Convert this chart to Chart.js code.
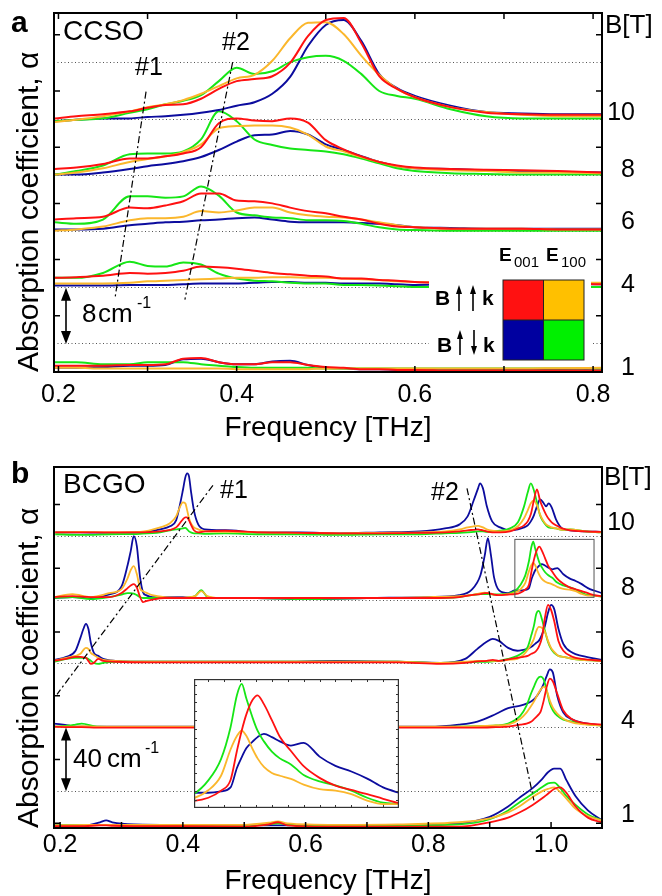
<!DOCTYPE html>
<html>
<head>
<meta charset="utf-8">
<script src="https://cdn.jsdelivr.net/npm/chart.js@4.4.1/dist/chart.umd.min.js"></script>
<style>
  html, body { margin: 0; padding: 0; background: #fff; }
  #wrap { position: relative; width: 662px; height: 896px; }
  canvas { position: absolute; left: 0; }
  #cA { top: 0; }
  #cB { top: 448px; }
  #cI { left: 194px; top: 679px; }
</style>
</head>
<body>
<div id="wrap">
  <canvas id="cA" width="662" height="448"></canvas>
  <canvas id="cB" width="662" height="448"></canvas>
  <canvas id="cI" width="205" height="129"></canvas>
</div>
<script>
// ---------- panel a : CCSO (values in cm^-1 above each field's baseline) ----------
const freqA = [0.196, 0.22, 0.25, 0.28, 0.30, 0.32, 0.34, 0.36, 0.38, 0.40, 0.42, 0.44, 0.46, 0.48, 0.50, 0.52, 0.54, 0.56, 0.58, 0.60, 0.64, 0.68, 0.72, 0.76, 0.81];

const a10red    = [0.1, 0.4, 0.7, 1.1, 1.6, 2.0, 2.1, 2.9, 4.3, 5.4, 5.7, 6.1, 8.0, 11.8, 14.1, 14.4, 10.8, 6.1, 4.3, 3.1, 1.7, 0.9, 0.7, 0.6, 0.6];
const a10yellow = [-0.4, -0.1, 0.4, 1.1, 1.7, 2.1, 2.7, 3.6, 4.7, 5.8, 6.3, 8.3, 11.5, 13.7, 13.8, 12.1, 9.0, 6.3, 4.3, 3.1, 1.7, 1.0, 0.6, 0.4, 0.4];
const a10green  = [-0.3, -0.1, 0.1, 0.9, 1.4, 2.1, 2.6, 3.4, 5.4, 7.3, 6.4, 6.8, 8.1, 8.8, 9.0, 8.3, 6.4, 4.0, 3.3, 2.9, 1.4, 0.4, 0.1, 0.1, 0.1];
const a10blue   = [-0.3, -0.1, 0.1, 0.1, 0.3, 0.4, 0.6, 0.9, 1.3, 1.9, 2.4, 3.6, 6.0, 10.4, 13.4, 14.1, 11.1, 6.4, 4.4, 3.3, 1.9, 1.0, 0.8, 0.7, 0.7];

const a8red    = [0.9, 1.1, 1.6, 2.4, 2.4, 2.7, 3.1, 4.0, 7.4, 8.1, 7.8, 7.7, 8.1, 7.5, 5.0, 3.7, 2.7, 1.9, 1.4, 1.1, 0.9, 0.8, 0.7, 0.6, 0.4];
const a8yellow = [0.1, 0.4, 1.0, 1.9, 2.3, 2.7, 3.3, 4.4, 6.7, 7.0, 7.1, 7.1, 6.8, 5.8, 4.1, 3.4, 2.6, 1.9, 1.3, 1.0, 0.7, 0.6, 0.4, 0.4, 0.3];
const a8green  = [0.1, 0.6, 1.4, 3.0, 3.1, 3.1, 3.4, 5.1, 9.1, 7.7, 5.1, 4.3, 3.8, 3.6, 3.4, 3.0, 2.4, 1.7, 1.0, 0.6, 0.3, 0.2, 0.1, 0.1, 0.1];
const a8blue   = [0.1, 0.1, 0.4, 0.9, 1.3, 1.6, 2.0, 2.6, 3.6, 4.8, 5.7, 5.8, 6.3, 5.8, 4.4, 3.6, 2.7, 1.9, 1.3, 1.0, 0.9, 0.7, 0.6, 0.5, 0.4];

const a6red    = [1.7, 1.9, 2.1, 3.4, 3.3, 3.7, 4.3, 5.4, 5.4, 4.4, 4.3, 4.0, 3.4, 2.9, 2.6, 2.1, 1.7, 1.1, 0.7, 0.6, 0.4, 0.4, 0.4, 0.3, 0.3];
const a6yellow = [0.1, 0.3, 0.7, 1.6, 1.9, 1.9, 2.1, 2.9, 2.7, 3.0, 3.4, 3.4, 2.7, 2.3, 2.1, 2.0, 1.7, 1.3, 0.9, 0.6, 0.4, 0.4, 0.4, 0.3, 0.3];
const a6green  = [1.3, 1.1, 1.7, 5.0, 5.0, 4.8, 5.0, 6.4, 5.1, 2.7, 2.3, 2.0, 1.9, 1.6, 1.6, 1.5, 1.1, 0.6, 0.3, 0.2, 0.1, 0.1, 0.1, 0.1, 0.1];
const a6blue   = [0.3, 0.3, 0.4, 0.9, 1.1, 1.3, 1.4, 1.6, 1.7, 1.9, 2.0, 1.7, 1.4, 1.3, 1.3, 1.3, 1.2, 1.1, 0.9, 0.6, 0.5, 0.4, 0.4, 0.4, 0.4];

const a4red    = [1.4, 1.5, 1.7, 2.1, 2.0, 2.1, 2.4, 3.0, 2.9, 2.7, 2.4, 2.1, 1.9, 1.7, 1.6, 1.3, 1.3, 1.1, 1.0, 0.8, 0.7, 0.6, 0.6, 0.6, 0.5];
const a4yellow = [0.6, 0.6, 0.6, 0.7, 0.9, 1.0, 1.1, 1.2, 1.3, 1.4, 1.4, 1.5, 1.5, 1.4, 1.4, 1.3, 1.2, 1.1, 0.9, 0.8, 0.7, 0.7, 0.7, 0.7, 0.7];
const a4green  = [1.4, 1.4, 2.1, 3.7, 3.1, 3.0, 3.6, 3.3, 2.0, 1.3, 1.0, 0.9, 0.7, 0.6, 0.6, 0.4, 0.4, 0.3, 0.2, 0.1, 0.1, 0.1, 0.1, 0.1, 0.1];
const a4blue   = [0.3, 0.3, 0.3, 0.4, 0.4, 0.4, 0.5, 0.6, 0.6, 0.6, 0.7, 0.8, 0.8, 0.7, 0.7, 0.6, 0.6, 0.6, 0.5, 0.4, 0.5, 0.5, 0.5, 0.5, 0.5];

const a1red    = [0.9, 0.9, 0.9, 1.0, 1.0, 1.1, 1.9, 2.0, 1.4, 1.1, 1.1, 1.4, 1.4, 1.0, 0.7, 0.6, 0.4, 0.4, 0.3, 0.3, 0.2, 0.2, 0.2, 0.2, 0.2];
const a1yellow = [0.6, 0.6, 0.5, 0.5, 0.5, 0.5, 0.5, 0.5, 0.5, 0.4, 0.4, 0.4, 0.4, 0.4, 0.5, 0.5, 0.5, 0.5, 0.5, 0.5, 0.5, 0.5, 0.5, 0.55, 0.6];
const a1green  = [1.4, 1.4, 1.1, 1.1, 1.4, 1.4, 1.4, 1.1, 0.9, 0.7, 0.6, 0.6, 0.6, 0.6, 0.5, 0.5, 0.5, 0.5, 0.5, 0.5, 0.5, 0.5, 0.5, 0.5, 0.5];
const a1blue   = [0.6, 0.6, 0.7, 0.9, 0.9, 1.0, 1.8, 1.9, 1.4, 1.1, 1.1, 1.5, 1.6, 1.0, 0.6, 0.5, 0.4, 0.4, 0.3, 0.3, 0.3, 0.3, 0.3, 0.3, 0.2];

const offsetsA = [36, 28, 20, 12, 0];          // 10, 8, 6, 4, 1 T
const fieldPosA = [36.9, 28.75, 21.35, 12.3, 0.5];
const fieldLabels = ['10', '8', '6', '4', '1'];
const gridA = [4, 12, 20, 28, 36, 44];
const tickXA = [0.2, 0.3, 0.4, 0.5, 0.6, 0.7, 0.8];
const tickYA = [8, 16, 24, 32, 40, 48];
const guideA1 = [[0.2983, 39.9], [0.2637, 10.7]];
const guideA2 = [[0.3955, 44.1], [0.3419, 10.3]];

// ---------- panel b : BCGO ----------
const freqB10 = [0.192, 0.233, 0.281, 0.330, 0.363, 0.379, 0.389, 0.395, 0.400, 0.404, 0.407, 0.410, 0.413, 0.418, 0.425, 0.436, 0.469, 0.526, 0.591, 0.656, 0.721, 0.786, 0.827, 0.851, 0.864, 0.874, 0.881, 0.884, 0.889, 0.895, 0.904, 0.917, 0.933, 0.946, 0.956, 0.962, 0.967, 0.972, 0.977, 0.982, 0.987, 0.992, 0.996, 1.001, 1.008, 1.018, 1.031, 1.055, 1.081];
const b10red    = [2.5, 2.5, 2.5, 2.5, 3.1, 4.1, 5.6, 8.2, 10.7, 11.9, 11.9, 10.0, 7.5, 3.8, 2.5, 3.1, 3.5, 2.5, 2.2, 1.9, 1.9, 2.2, 2.5, 3.1, 3.8, 4.1, 4.4, 4.1, 3.8, 3.1, 2.5, 2.5, 3.1, 5.0, 6.9, 9.4, 13.8, 22.6, 29.5, 22.5, 17.5, 13.5, 11.0, 8.8, 6.9, 5.0, 3.8, 3.1, 2.8];
const b10yellow = [2.5, 2.8, 2.5, 2.8, 5.6, 8.2, 12.5, 18.2, 21.3, 20.7, 16.3, 11.3, 8.2, 5.6, 4.4, 3.1, 2.8, 2.5, 2.2, 1.9, 2.2, 2.5, 3.1, 4.4, 5.6, 6.3, 6.6, 6.3, 5.6, 4.4, 3.5, 3.1, 3.8, 6.3, 11.3, 16.3, 20.7, 22.6, 19.4, 13.8, 10.0, 7.5, 6.6, 5.6, 5.0, 4.1, 4.4, 3.1, 2.5];
const b10green  = [1.3, 0.9, 1.3, 1.6, 2.5, 3.8, 4.4, 4.7, 5.0, 5.3, 4.4, 3.1, 2.5, 1.9, 1.9, 1.6, 1.9, 1.3, 1.3, 0.9, 1.3, 1.3, 1.9, 2.2, 2.5, 2.8, 3.1, 3.1, 3.1, 2.8, 3.1, 3.5, 5.0, 8.8, 18.8, 27.6, 33.2, 28.9, 21.3, 13.2, 9.4, 6.9, 5.6, 5.3, 5.0, 4.1, 4.4, 3.1, 2.5];
const b10blue   = [2.5, 2.5, 2.2, 2.5, 4.4, 6.3, 10.0, 19.4, 28.9, 37.0, 39.5, 37.6, 28.9, 16.3, 7.5, 4.4, 3.8, 2.5, 2.5, 1.9, 2.5, 3.1, 5.0, 7.5, 12.5, 22.6, 30.1, 33.2, 30.1, 19.4, 9.4, 5.6, 3.8, 4.4, 5.6, 6.9, 9.4, 13.2, 18.8, 23.2, 21.3, 18.8, 20.7, 18.2, 10.7, 5.0, 3.8, 3.1, 2.8];

const freqB8 = [0.19, 0.22, 0.25, 0.28, 0.30, 0.31, 0.315, 0.32, 0.325, 0.33, 0.335, 0.34, 0.35, 0.37, 0.40, 0.42, 0.43, 0.44, 0.46, 0.52, 0.60, 0.70, 0.80, 0.85, 0.87, 0.885, 0.892, 0.897, 0.902, 0.907, 0.915, 0.93, 0.941, 0.95, 0.958, 0.964, 0.968, 0.971, 0.974, 0.978, 0.981, 0.985, 0.99, 0.995, 1.002, 1.01, 1.02, 1.03, 1.04, 1.05, 1.06, 1.07, 1.083];
const b8red    = [1.9, 2.5, 1.9, 1.9, 4.4, 7.5, 9.1, 10.0, 7.8, 2.2, -1.3, -0.6, 0.3, 1.3, 1.3, 1.3, 1.3, 1.3, 1.3, 1.3, 1.3, 1.3, 1.3, 1.9, 3.1, 3.8, 4.4, 4.4, 4.0, 3.4, 3.1, 3.5, 3.7, 4.6, 6.6, 9.6, 17.8, 23.5, 28.2, 32.3, 33.5, 31.0, 26.5, 21.8, 17.8, 13.5, 10.2, 8.0, 6.8, 5.6, 4.3, 3.1, 2.5];
const b8yellow = [1.9, 3.8, 1.9, 4.4, 6.9, 13.8, 18.8, 21.3, 16.3, 7.5, 5.6, 4.7, 3.1, 1.9, 1.6, 2.5, 5.6, 2.5, 1.3, 1.3, 1.3, 1.3, 1.9, 2.5, 3.1, 4.4, 4.7, 4.4, 3.8, 3.4, 3.1, 3.8, 4.5, 6.7, 10.8, 18.2, 22.0, 23.5, 22.0, 18.2, 15.7, 13.3, 11.6, 10.8, 9.9, 8.3, 7.0, 6.6, 5.6, 3.8, 2.8, 2.8, 2.2];
const b8green  = [1.3, 1.9, 0.6, 1.9, 3.5, 4.4, 4.4, 4.1, 3.1, 1.9, 1.3, 1.3, 1.3, 1.3, 1.3, 2.5, 6.3, 1.9, 1.3, 1.3, 0.6, 1.3, 1.3, 1.9, 3.1, 3.8, 3.8, 3.8, 3.8, 3.5, 3.5, 4.0, 5.7, 9.5, 15.5, 24.5, 33.5, 36.7, 32.5, 27.0, 23.5, 20.5, 17.6, 15.7, 14.0, 11.0, 9.2, 8.1, 6.6, 4.6, 3.2, 2.8, 2.2];
const b8blue   = [1.3, 1.9, 1.3, 3.5, 8.5, 22.0, 30.7, 40.1, 33.9, 15.1, 5.0, 3.1, 1.9, 1.9, 1.9, 1.3, 1.3, 1.3, 1.3, 1.3, 0.6, 1.3, 1.9, 3.1, 6.3, 15.7, 28.2, 38.9, 28.2, 14.4, 6.3, 4.4, 6.0, 6.0, 6.4, 7.5, 13.0, 16.0, 18.6, 20.5, 21.7, 22.6, 21.7, 20.5, 19.3, 20.1, 16.2, 13.6, 12.0, 10.0, 7.5, 6.0, 4.4];

const freqB6 = [0.19, 0.21, 0.225, 0.233, 0.238, 0.242, 0.246, 0.25, 0.255, 0.262, 0.27, 0.29, 0.35, 0.45, 0.55, 0.65, 0.75, 0.82, 0.86, 0.88, 0.895, 0.905, 0.915, 0.93, 0.945, 0.955, 0.962, 0.968, 0.972, 0.976, 0.98, 0.985, 0.99, 0.995, 1.0, 1.005, 1.012, 1.02, 1.035, 1.05, 1.083];
const b6red    = [1.9, 3.1, 4.4, 4.4, 4.1, 3.8, 1.9, 0, 0.6, 3.1, 1.9, 1.3, 0.9, 0.9, 0.9, 0.9, 0.9, 0, 0.6, 1.6, 1.9, 2.5, 1.9, 2.8, 3.8, 4.4, 5.0, 6.3, 6.9, 8.2, 10.7, 16.3, 28.9, 37.0, 33.9, 27.0, 14.4, 8.2, 4.4, 3.1, 1.9];
const b6yellow = [1.9, 3.8, 5.0, 6.3, 8.8, 10.0, 9.4, 6.9, 5.6, 3.8, 2.5, 1.9, 1.3, 1.3, 1.3, 1.3, 1.3, 0.6, 1.3, 1.9, 1.9, 1.9, 1.9, 2.5, 3.1, 5.6, 8.8, 12.5, 15.7, 20.7, 23.2, 22.6, 20.1, 14.4, 10.0, 7.5, 5.0, 4.4, 3.1, 2.5, 1.9];
const b6green  = [1.3, 3.1, 3.8, 3.8, 3.8, 3.8, 3.1, 1.9, 0.6, 0, 0.6, 1.3, 1.3, 1.3, 1.3, 1.3, 1.3, 0.6, 0.9, 1.3, 1.3, 1.6, 1.9, 3.1, 5.0, 7.5, 10.7, 18.2, 23.8, 31.4, 33.2, 28.2, 20.7, 13.8, 9.4, 6.9, 5.0, 4.4, 3.1, 2.5, 1.9];
const b6blue   = [2.5, 4.4, 8.2, 16.3, 22.0, 25.1, 22.0, 13.2, 6.9, 5.0, 3.1, 1.9, 1.3, 1.3, 1.3, 1.9, 1.3, 0.6, 3.1, 9.4, 13.8, 15.7, 14.4, 10.0, 8.2, 8.8, 9.4, 10.7, 11.9, 13.2, 14.4, 18.2, 23.8, 32.0, 37.0, 34.5, 22.0, 12.5, 6.9, 5.0, 2.5];

const freqB4 = [0.19, 0.215, 0.225, 0.235, 0.26, 0.35, 0.45, 0.55, 0.65, 0.75, 0.8, 0.85, 0.88, 0.91, 0.93, 0.95, 0.96, 0.968, 0.973, 0.978, 0.983, 0.988, 0.993, 0.998, 1.003, 1.01, 1.02, 1.035, 1.05, 1.083];
const b4red    = [0.6, 0.3, 0.3, 0.3, 0, 0, 0, 0, 0, 0, 0, 0, 0, 0.3, 0.6, 1.9, 2.5, 3.8, 5.6, 7.5, 10.0, 16.9, 25.7, 30.7, 28.9, 21.3, 10.7, 5.0, 3.1, 1.9];
const b4yellow = [0.6, 0.6, 0.6, 0.9, 0.6, 0.6, 0.6, 0.6, 0.6, 0.6, 0.6, 0.6, 0.9, 1.3, 1.9, 5.6, 9.4, 13.8, 16.9, 20.7, 23.8, 25.7, 23.2, 16.9, 12.5, 8.8, 5.6, 3.1, 2.2, 1.3];
const b4green  = [0.6, 1.3, 1.9, 2.5, 0.6, 0.3, 0.3, 0.3, 0.3, 0.3, 0.3, 0.6, 0.9, 1.3, 2.5, 7.5, 13.8, 22.0, 26.5, 30.7, 32.0, 30.1, 23.2, 15.1, 10.7, 7.5, 5.0, 3.8, 2.5, 1.3];
const b4blue   = [2.5, 1.3, 0.6, 0.6, 0.6, 0.6, 0.6, 0.6, 0.6, 0.6, 0.6, 1.9, 3.8, 8.5, 12.2, 13.8, 15.0, 16.5, 18.0, 20.5, 23.5, 27.5, 32.5, 36.5, 34.5, 20.0, 9.5, 5.0, 3.1, 1.3];

const freqB1 = [0.19, 0.24, 0.265, 0.275, 0.285, 0.32, 0.40, 0.50, 0.54, 0.555, 0.57, 0.65, 0.75, 0.85, 0.90, 0.93, 0.95, 0.97, 0.985, 0.995, 1.005, 1.015, 1.025, 1.04, 1.06, 1.083];
const b1red    = [1.1, 1.1, 1.7, 1.7, 1.4, 1.1, 1.1, 0.8, 2.3, 3.6, 1.7, 0.8, 0.8, 0.8, 3.6, 6.5, 10.0, 14.5, 18.5, 21.5, 24.5, 25.5, 22.0, 13.5, 6.5, 3.6];
const b1yellow = [1.7, 2.0, 2.0, 2.0, 2.0, 2.0, 2.0, 2.0, 3.3, 4.2, 2.9, 2.0, 2.3, 3.6, 6.1, 9.8, 14.0, 19.5, 23.0, 24.5, 25.5, 22.5, 18.5, 12.0, 7.5, 4.8];
const b1green  = [1.7, 2.0, 2.0, 2.0, 2.0, 2.0, 2.0, 2.0, 2.3, 2.9, 2.3, 1.7, 1.7, 2.3, 5.5, 11.0, 16.5, 21.5, 25.5, 28.0, 28.5, 25.0, 20.0, 14.5, 8.5, 4.8];
const b1blue   = [1.7, 1.7, 3.6, 4.8, 3.6, 2.3, 2.0, 2.0, 1.7, 1.7, 1.7, 1.7, 1.7, 2.9, 7.0, 13.5, 19.5, 25.0, 30.5, 35.0, 37.2, 37.3, 30.0, 19.9, 11.1, 4.8];

const offsetsB = [200, 160, 120, 80, 17];
const fieldPosB = [208.5, 167.7, 127.9, 83.9, 25];
const gridB = [40, 80, 120, 160, 200];
const tickXB = [0.2, 0.3, 0.4, 0.5, 0.6, 0.7, 0.8, 0.9, 1.0];
const tickYB = [20, 60, 100, 140, 180, 220];
const guideB1 = [[0.449, 232.0], [0.195, 100.9]];
const guideB2 = [[0.863, 230.1], [0.972, 34.4]];
const insetX = [0.941, 1.070];
const insetY = [161.7, 198.1];

// ---------- helpers ----------
const FF = '"Liberation Sans", Arial, Helvetica, sans-serif';
Chart.defaults.font.family = FF;
Chart.defaults.color = '#000';
const COL = { red: '#ff1111', yellow: '#fbb72c', green: '#16e616', blue: '#0c0c9e' };

function pts(freq, vals, off) {
  return freq.map((f, i) => ({ x: f, y: off + vals[i] }));
}
function field(freq, off, r, yl, g, b, lw) {
  return [['red', r], ['yellow', yl], ['green', g], ['blue', b]].map(([c, v]) => ({
    data: pts(freq, v, off), borderColor: COL[c], borderWidth: lw,
    pointRadius: 0, fill: false, cubicInterpolationMode: 'monotone'
  }));
}
function guide(g) {
  return {
    data: g.map(p => ({ x: p[0], y: p[1] })), borderColor: '#000', borderWidth: 1.2,
    borderDash: [7, 3, 2, 3], pointRadius: 0, fill: false, tension: 0
  };
}
function text(ctx, s, x, y, font, align) {
  ctx.font = font;
  ctx.textAlign = align || 'left';
  ctx.textBaseline = 'alphabetic';
  ctx.fillStyle = '#000';
  ctx.fillText(s, x, y);
}
function head(ctx, x, y, w, h, up) {
  ctx.beginPath();
  ctx.moveTo(x, y);
  ctx.lineTo(x - w / 2, y + (up ? h : -h));
  ctx.lineTo(x + w / 2, y + (up ? h : -h));
  ctx.closePath();
  ctx.fill();
}
function arrow(ctx, x, y1, y2, w, h, top, bottom, lw) {
  ctx.save();
  ctx.strokeStyle = '#000';
  ctx.fillStyle = '#000';
  ctx.lineWidth = lw;
  ctx.beginPath();
  ctx.moveTo(x, y1 + (top ? h - 1 : 0));
  ctx.lineTo(x, y2 - (bottom ? h - 1 : 0));
  ctx.stroke();
  if (top) head(ctx, x, y1, w, h, true);
  if (bottom) head(ctx, x, y2, w, h, false);
  ctx.restore();
}
function frameTicks(chart, xt, yt, withTop) {
  const { ctx, chartArea: a, scales } = chart;
  ctx.save();
  ctx.strokeStyle = '#000';
  ctx.lineWidth = 1.5;
  ctx.beginPath();
  xt.forEach(v => {
    const p = scales.x.getPixelForValue(v);
    ctx.moveTo(p, a.bottom); ctx.lineTo(p, a.bottom - 6);
    if (withTop) { ctx.moveTo(p, a.top); ctx.lineTo(p, a.top + 6); }
  });
  yt.forEach(v => {
    const p = scales.y.getPixelForValue(v);
    ctx.moveTo(a.left, p); ctx.lineTo(a.left + 6, p);
    ctx.moveTo(a.right, p); ctx.lineTo(a.right - 6, p);
  });
  ctx.stroke();
  ctx.lineWidth = 2;
  ctx.strokeRect(a.left, a.top, a.right - a.left, a.bottom - a.top);
  ctx.restore();
}
// fixed box sizes, no automatic label padding, so the plot area sits where the figure has it
function fixBox(w, h) {
  return s => {
    if (w !== null) s.width = w;
    if (h !== null) s.height = h;
    s.paddingTop = 0; s.paddingBottom = 0; s.paddingLeft = 0; s.paddingRight = 0;
  };
}
function scalesFor(xmin, xmax, xlabels, ymin, ymax, grid, fpos, xh, xpad, tpad) {
  return {
    x: {
      type: 'linear', min: xmin, max: xmax,
      afterBuildTicks: s => { s.ticks = xlabels.map(v => ({ value: v })); },
      ticks: { callback: v => v.toFixed(1), font: { size: 25 }, padding: xpad, maxRotation: 0, autoSkip: false },
      grid: { display: false, drawTicks: false },
      border: { display: false },
      title: { display: true, text: 'Frequency [THz]', font: { size: 28 }, padding: { top: 0, bottom: tpad } },
      afterFit: fixBox(null, xh)
    },
    y: {
      type: 'linear', min: ymin, max: ymax,
      afterBuildTicks: s => { s.ticks = grid.map(v => ({ value: v })); },
      ticks: { display: false },
      grid: { color: '#555', lineWidth: 1, drawTicks: false },
      border: { display: false, dash: [1, 2.5] },
      title: { display: true, text: 'Absorption coefficient, \u03b1', font: { size: 30 }, align: 'start', padding: { top: 12, bottom: 0 } },
      afterFit: fixBox(54, null)
    },
    y2: {
      type: 'linear', position: 'right', min: ymin, max: ymax,
      afterBuildTicks: s => { s.ticks = fpos.map(v => ({ value: v })); },
      ticks: { callback: (v, i) => fieldLabels[i], font: { size: 25 }, crossAlign: 'far', padding: 4, autoSkip: false },
      grid: { display: false, drawTicks: false },
      border: { display: false },
      afterFit: fixBox(33, null)
    }
  };
}
const common = {
  responsive: false, animation: false, devicePixelRatio: 1, events: [],
  plugins: { legend: { display: false }, tooltip: { enabled: false } }
};

// ---------- panel a ----------
const setsA = [guide(guideA1), guide(guideA2)]
  .concat(field(freqA, offsetsA[0], a10red, a10yellow, a10green, a10blue, 2))
  .concat(field(freqA, offsetsA[1], a8red, a8yellow, a8green, a8blue, 2))
  .concat(field(freqA, offsetsA[2], a6red, a6yellow, a6green, a6blue, 2))
  .concat(field(freqA, offsetsA[3], a4red, a4yellow, a4green, a4blue, 2))
  .concat(field(freqA, offsetsA[4], a1red, a1yellow, a1green, a1blue, 2));

const decoA = {
  id: 'decoA',
  afterDatasetsDraw(chart) {
    const ctx = chart.ctx;
    ctx.save();
    // legend box hides the curves beneath it
    ctx.fillStyle = '#fff';
    ctx.fillRect(429, 237, 162, 125);
    text(ctx, 'E', 499, 261, 'bold 19px ' + FF);
    text(ctx, '001', 514, 267, '15px ' + FF);
    text(ctx, 'E', 546, 261, 'bold 19px ' + FF);
    text(ctx, '100', 561, 267, '15px ' + FF);
    const sq = [[COL.red, 503, 280], ['#ffc000', 543.5, 280], ['#0000a0', 503, 320], ['#00f000', 543.5, 320]];
    sq.forEach(([c, x, y]) => { ctx.fillStyle = c; ctx.fillRect(x, y, 40.5, 40); });
    ctx.strokeStyle = '#222';
    ctx.lineWidth = 1;
    ctx.strokeRect(503, 280, 81, 80);
    ctx.beginPath();
    ctx.moveTo(543.5, 280); ctx.lineTo(543.5, 360);
    ctx.moveTo(503, 320); ctx.lineTo(584, 320);
    ctx.stroke();
    text(ctx, 'B', 435, 305, 'bold 21px ' + FF);
    text(ctx, 'k', 482, 305, 'bold 21px ' + FF);
    arrow(ctx, 459, 285, 311, 6, 9, true, false, 1.6);
    arrow(ctx, 473, 285, 311, 6, 9, true, false, 1.6);
    text(ctx, 'B', 437, 352, 'bold 21px ' + FF);
    text(ctx, 'k', 483, 352, 'bold 21px ' + FF);
    arrow(ctx, 460, 330, 355, 6, 9, true, false, 1.6);
    arrow(ctx, 474, 330, 355, 6, 9, false, true, 1.6);
    ctx.restore();
  },
  afterDraw(chart) {
    const ctx = chart.ctx;
    const ys = chart.scales.y;
    frameTicks(chart, tickXA, tickYA, true);
    text(ctx, 'a', 11, 32, 'bold 30px ' + FF);
    text(ctx, 'CCSO', 63, 40, '28px ' + FF);
    text(ctx, 'B[T]', 605, 33, '26px ' + FF);
    text(ctx, '#1', 135, 75, '25px ' + FF);
    text(ctx, '#2', 222, 50, '25px ' + FF);
    arrow(ctx, 66, ys.getPixelForValue(12), ys.getPixelForValue(4), 10, 13, true, true, 1.6);
    text(ctx, '8', 82, 322, '26px ' + FF);
    text(ctx, 'cm', 98, 322, '26px ' + FF);
    text(ctx, '-1', 137, 308, '16px ' + FF);
  }
};

new Chart(document.getElementById('cA'), {
  type: 'line',
  data: { datasets: setsA },
  options: Object.assign({}, common, {
    layout: { padding: { top: 13, left: 0, right: 27, bottom: 0 } },
    scales: scalesFor(0.195, 0.81, [0.2, 0.4, 0.6, 0.8], 0, 51.1, gridA, fieldPosA, 76, 8, 3)
  }),
  plugins: [decoA]
});

// ---------- panel b ----------
const setsB8 = () => field(freqB8, offsetsB[1], b8red, b8yellow, b8green, b8blue, 1.8);
const setsB = [guide(guideB1), guide(guideB2)]
  .concat(field(freqB10, offsetsB[0], b10red, b10yellow, b10green, b10blue, 1.8))
  .concat(setsB8())
  .concat(field(freqB6, offsetsB[2], b6red, b6yellow, b6green, b6blue, 1.8))
  .concat(field(freqB4, offsetsB[3], b4red, b4yellow, b4green, b4blue, 1.8))
  .concat(field(freqB1, offsetsB[4], b1red, b1yellow, b1green, b1blue, 1.8));

const decoB = {
  id: 'decoB',
  afterDatasetsDraw(chart) {
    const { ctx, scales: { x, y } } = chart;
    ctx.save();
    ctx.strokeStyle = '#555';
    ctx.lineWidth = 1;
    const x0 = x.getPixelForValue(insetX[0]), x1 = x.getPixelForValue(insetX[1]);
    const y0 = y.getPixelForValue(insetY[1]), y1 = y.getPixelForValue(insetY[0]);
    ctx.strokeRect(x0, y0, x1 - x0, y1 - y0);
    ctx.restore();
  },
  afterDraw(chart) {
    const ctx = chart.ctx;
    const ys = chart.scales.y;
    frameTicks(chart, tickXB, tickYB, false);
    text(ctx, 'b', 11, 35, 'bold 30px ' + FF);
    text(ctx, 'BCGO', 63, 45, '28px ' + FF);
    text(ctx, 'B[T]', 604, 37, '26px ' + FF);
    text(ctx, '#1', 220, 50, '25px ' + FF);
    text(ctx, '#2', 431, 52, '25px ' + FF);
    arrow(ctx, 66, ys.getPixelForValue(80), ys.getPixelForValue(40), 10, 13, true, true, 1.6);
    text(ctx, '40', 73, 319, '26px ' + FF);
    text(ctx, 'cm', 107, 319, '26px ' + FF);
    text(ctx, '-1', 145, 305, '16px ' + FF);
  }
};

new Chart(document.getElementById('cB'), {
  type: 'line',
  data: { datasets: setsB },
  options: Object.assign({}, common, {
    layout: { padding: { top: 19, left: 0, right: 27, bottom: 0 } },
    scales: scalesFor(0.19, 1.083, [0.2, 0.4, 0.6, 0.8, 1.0], 17, 243.5, gridB, fieldPosB, 68, 2, -2)
  }),
  plugins: [decoB]
});

// ---------- inset: zoom of the 8 T peaks ----------
const insetTicksX = [0.95, 0.96, 0.97, 0.98, 0.99, 1.0, 1.01, 1.02, 1.03, 1.04, 1.05, 1.06];
const insetTicksY = [164, 166.5, 169, 171.5, 174, 176.5, 179, 181.5, 184, 186.5, 189, 191.5, 194, 196.5];
const decoI = {
  id: 'decoI',
  beforeDraw(chart) {
    const ctx = chart.ctx;
    ctx.save();
    ctx.fillStyle = '#fff';
    ctx.fillRect(0, 0, chart.width, chart.height);
    ctx.restore();
  },
  afterDraw(chart) {
    const { ctx, chartArea: a, scales: { x, y } } = chart;
    ctx.save();
    ctx.strokeStyle = '#333';
    ctx.lineWidth = 1;
    ctx.beginPath();
    insetTicksX.forEach(v => {
      const p = Math.round(x.getPixelForValue(v)) + 0.5;
      ctx.moveTo(p, a.bottom); ctx.lineTo(p, a.bottom - 3);
      ctx.moveTo(p, a.top); ctx.lineTo(p, a.top + 3);
    });
    insetTicksY.forEach(v => {
      const p = Math.round(y.getPixelForValue(v)) + 0.5;
      ctx.moveTo(a.left, p); ctx.lineTo(a.left + 3, p);
      ctx.moveTo(a.right, p); ctx.lineTo(a.right - 3, p);
    });
    ctx.stroke();
    ctx.lineWidth = 1.2;
    ctx.strokeRect(0.6, 0.6, chart.width - 1.2, chart.height - 1.2);
    ctx.restore();
  }
};

new Chart(document.getElementById('cI'), {
  type: 'line',
  data: { datasets: setsB8() },
  options: Object.assign({}, common, {
    layout: { padding: 0 },
    scales: {
      x: { type: 'linear', display: false, min: insetX[0], max: insetX[1] },
      y: { type: 'linear', display: false, min: insetY[0], max: insetY[1] }
    }
  }),
  plugins: [decoI]
});
</script>
</body>
</html>
